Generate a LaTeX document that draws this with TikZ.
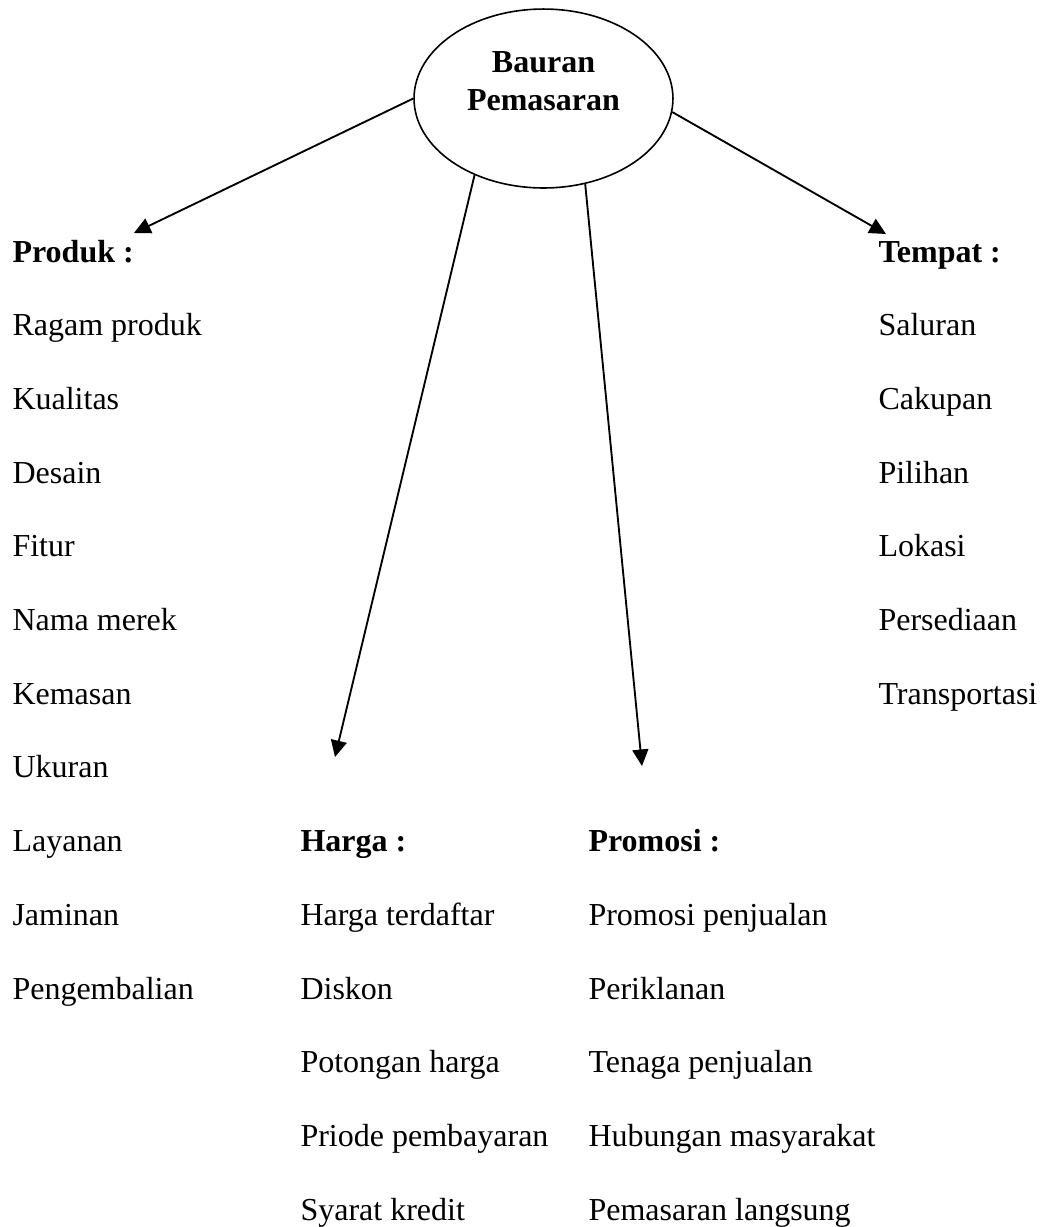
\documentclass[tikz,border=0pt]{standalone}
\usepackage{fontspec}
\setmainfont{Liberation Serif}
\usetikzlibrary{arrows.meta,shapes.geometric}
\begin{document}
\begin{tikzpicture}[x=0.375pt,y=-0.375pt,
  item/.style={anchor=base west,inner sep=0pt,font=\fontsize{12}{14}\selectfont},
  head/.style={item,font=\fontsize{12}{14}\selectfont\bfseries},
  conn/.style={line width=0.7pt,-{Triangle[length=6.2pt,width=6pt]}}]
\useasboundingbox (0,0) rectangle (1042,1227);
\node[ellipse,draw,line width=0.6pt,minimum width=97.1pt,minimum height=67.1pt,inner sep=0pt] (bm) at (543.5,98.5) {};
\node[anchor=base,inner sep=0pt,align=center,font=\fontsize{12}{13.9}\selectfont\bfseries] (bmt) at (543.5,110) {Bauran\\Pemasaran};
\coordinate (tp) at (134,233);
\coordinate (th) at (335,757);
\coordinate (tr) at (642,766);
\coordinate (tt) at (886,234);
\draw[conn] (bm.180) -- (tp);
\draw[conn] (bm.228.6) -- (th);
\draw[conn] (bm.296.7) -- (tr);
\draw[conn] (bm.-6.4) -- (tt);
% column 1
\node[head] (p0) at (12,262) {Produk :};
\node[item] (p1) at (12,335.7) {Ragam produk};
\node[item] (p2) at (12,409.4) {Kualitas};
\node[item] (p3) at (12,483.1) {Desain};
\node[item] (p4) at (12,556.8) {Fitur};
\node[item] (p5) at (12,630.5) {Nama merek};
\node[item] (p6) at (12,704.2) {Kemasan};
\node[item] (p7) at (12,777.9) {Ukuran};
\node[item] (p8) at (12,851.6) {Layanan};
\node[item] (p9) at (12,925.3) {Jaminan};
\node[item] (p10) at (12,999) {Pengembalian};
% column 2
\node[head] (h0) at (300,851.6) {Harga :};
\node[item] (h1) at (300,925.3) {Harga terdaftar};
\node[item] (h2) at (300,999) {Diskon};
\node[item] (h3) at (300,1072.7) {Potongan harga};
\node[item] (h4) at (300,1146.4) {Priode pembayaran};
\node[item] (h5) at (300,1220.1) {Syarat kredit};
% column 3
\node[head] (r0) at (588,851.6) {Promosi :};
\node[item] (r1) at (588,925.3) {Promosi penjualan};
\node[item] (r2) at (588,999) {Periklanan};
\node[item] (r3) at (588,1072.7) {Tenaga penjualan};
\node[item] (r4) at (588,1146.4) {Hubungan masyarakat};
\node[item] (r5) at (588,1220.1) {Pemasaran langsung};
% column 4
\node[head] (t0) at (878,262) {Tempat :};
\node[item] (t1) at (878,335.7) {Saluran};
\node[item] (t2) at (878,409.4) {Cakupan};
\node[item] (t3) at (878,483.1) {Pilihan};
\node[item] (t4) at (878,556.8) {Lokasi};
\node[item] (t5) at (878,630.5) {Persediaan};
\node[item] (t6) at (878,704.2) {Transportasi};
\end{tikzpicture}
\end{document}
